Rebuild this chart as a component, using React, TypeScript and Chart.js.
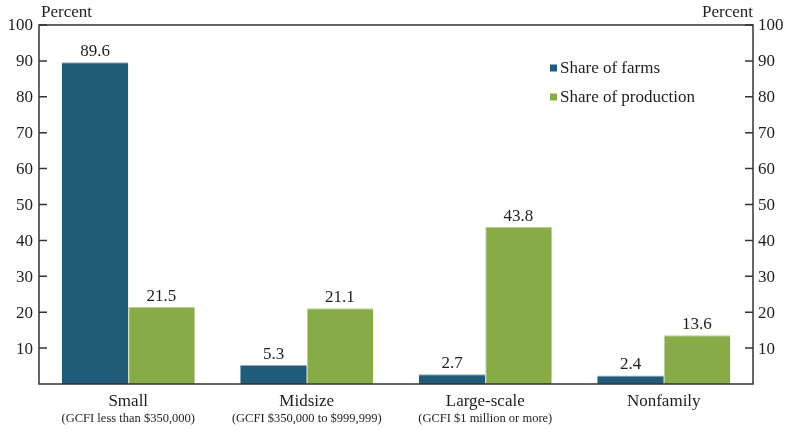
import React, { useEffect, useRef } from "react";
import { Chart, registerables } from "chart.js";

Chart.register(...registerables);

const categories = ["Small", "Midsize", "Large-scale", "Nonfamily"];
const subLabels = [
  "(GCFI less than $350,000)",
  "(GCFI $350,000 to $999,999)",
  "(GCFI $1 million or more)",
  "",
];
const shareOfFarms = [89.6, 5.3, 2.7, 2.4];
const shareOfProduction = [21.5, 21.1, 43.8, 13.6];
const tickValues = [10, 20, 30, 40, 50, 60, 70, 80, 90, 100];
const axisTitle = "Percent";

const BLUE = "#215b77";
const GREEN = "#87ab47";
const BLUE_EDGE = "#8fabbb";
const GREEN_EDGE = "#bdd19a";
const INK = "#1e1e1e";
const FONT = '"Liberation Serif"';

const overlayPlugin = {
  id: "overlay",
  afterDatasetsDraw(chart: any) {
    const { ctx, chartArea, scales } = chart;
    const x = scales.x;
    const y = scales.y;
    const { left, right, top, bottom } = chartArea;
    ctx.save();

    // frame around the plot
    ctx.strokeStyle = "#333333";
    ctx.lineWidth = 1.5;
    ctx.strokeRect(left, top, right - left, bottom - top);

    // inward tick marks + labels on both sides
    ctx.font = `17px ${FONT}`;
    ctx.fillStyle = INK;
    ctx.textBaseline = "middle";
    tickValues.forEach((v) => {
      const py = y.getPixelForValue(v);
      ctx.beginPath();
      ctx.moveTo(left, py);
      ctx.lineTo(left + 8, py);
      ctx.moveTo(right, py);
      ctx.lineTo(right - 8, py);
      ctx.stroke();
      ctx.textAlign = "right";
      ctx.fillText(String(v), left - 6, py + 1);
      ctx.textAlign = "left";
      ctx.fillText(String(v), right + 5, py + 1);
    });

    // axis titles
    ctx.textAlign = "left";
    ctx.fillText(axisTitle, left + 2, 13);
    ctx.textAlign = "right";
    ctx.fillText(axisTitle, right, 13);

    // category labels with GCFI ranges beneath
    ctx.textAlign = "center";
    categories.forEach((c, i) => {
      const px = x.getPixelForValue(i);
      ctx.font = `17px ${FONT}`;
      ctx.fillText(c, px, bottom + 18);
      if (subLabels[i]) {
        ctx.font = `12.5px ${FONT}`;
        ctx.fillText(subLabels[i], px, bottom + 35);
      }
    });

    // value labels above bars
    ctx.font = `17px ${FONT}`;
    ctx.textBaseline = "alphabetic";
    chart.data.datasets.forEach((ds: any, di: number) => {
      const meta = chart.getDatasetMeta(di);
      meta.data.forEach((bar: any, i: number) => {
        ctx.fillText(ds.data[i].toFixed(1), bar.x, bar.y - 6);
      });
    });

    // legend inside the plot, upper right
    const lx = 550;
    const rows = [68, 97];
    ctx.textBaseline = "middle";
    ctx.textAlign = "left";
    chart.data.datasets.forEach((ds: any, di: number) => {
      const ry = rows[di];
      ctx.fillStyle = ds.backgroundColor;
      ctx.fillRect(lx, ry - 3.5, 7, 7);
      ctx.fillStyle = INK;
      ctx.fillText(ds.label, lx + 10, ry + 1);
    });

    ctx.restore();
  },
};

export default function App() {
  const canvasRef = useRef<HTMLCanvasElement | null>(null);

  useEffect(() => {
    if (!canvasRef.current) return;
    const chart = new Chart(canvasRef.current, {
      type: "bar",
      data: {
        labels: categories,
        datasets: [
          {
            label: "Share of farms",
            data: shareOfFarms,
            backgroundColor: BLUE,
            borderColor: BLUE_EDGE,
            borderWidth: { top: 1, left: 0, right: 0, bottom: 0 },
            borderSkipped: "bottom",
            categoryPercentage: 0.745,
            barPercentage: 1.0,
          },
          {
            label: "Share of production",
            data: shareOfProduction,
            backgroundColor: GREEN,
            borderColor: GREEN_EDGE,
            borderWidth: { top: 1, left: 1, right: 0, bottom: 0 },
            borderSkipped: "bottom",
            categoryPercentage: 0.745,
            barPercentage: 1.0,
          },
        ],
      },
      options: {
        responsive: false,
        animation: false,
        layout: { padding: { left: 39, right: 34, top: 25, bottom: 46 } },
        plugins: {
          legend: { display: false },
          tooltip: { enabled: false },
        },
        scales: {
          x: { display: false, offset: true },
          y: { display: false, min: 0, max: 100 },
        },
      },
      plugins: [overlayPlugin],
    });
    let alive = true;
    Promise.all([
      document.fonts.load(`17px ${FONT}`),
      document.fonts.load(`12.5px ${FONT}`),
    ])
      .catch(() => undefined)
      .then(() => {
        if (alive) chart.draw();
      });
    return () => {
      alive = false;
      chart.destroy();
    };
  }, []);

  return (
    <div style={{ position: "absolute", left: 0, top: 0, width: 787, height: 430, background: "#fff" }}>
      <canvas ref={canvasRef} width={787} height={430} />
    </div>
  );
}
